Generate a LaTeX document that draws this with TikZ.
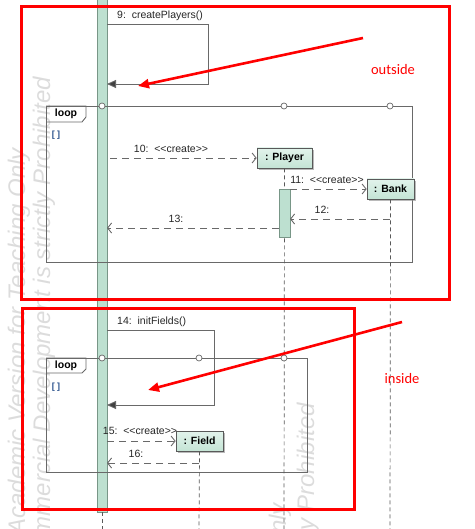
\documentclass[tikz,border=0pt]{standalone}
\usepackage{fontspec}
\setmainfont{Liberation Sans}
\newfontfamily\notefont{Carlito}
\usetikzlibrary{arrows.meta,shadows}
\definecolor{linegray}{RGB}{105,105,105}
\definecolor{bargreen}{RGB}{189,224,208}
\definecolor{barborder}{RGB}{120,150,135}
\definecolor{boxtop}{RGB}{226,243,235}
\definecolor{boxbot}{RGB}{196,228,213}
\definecolor{wmark}{RGB}{220,220,220}
\definecolor{guardblue}{RGB}{40,80,140}
\begin{document}
\begin{tikzpicture}[x=1pt,y=-1pt,
  font=\fontsize{10.5}{12}\selectfont,
  frame/.style={draw=linegray, line width=0.9pt},
  msgline/.style={draw=linegray, line width=0.9pt, dash pattern=on 7pt off 5pt},
  openhead/.style={-{Straight Barb[length=4pt,width=10pt]}},
  selfhead/.style={-{Triangle[length=9pt,width=8pt,fill=black!75]}},
  lifeline/.style={draw=black!65, line width=0.7pt, dash pattern=on 4pt off 3pt},
  objbox/.style={draw=black!65, line width=0.7pt, top color=boxtop, bottom color=boxbot,
     font=\bfseries\fontsize{10.5}{12}\selectfont, minimum height=20pt, inner sep=0pt,
     drop shadow={shadow xshift=2pt,shadow yshift=-2pt,fill=black!45,opacity=0.6}},
  barbox/.style={draw=barborder, fill=bargreen, line width=0.7pt, inner sep=0pt},
  circ/.style={circle, draw=linegray, fill=white, line width=0.7pt, inner sep=0pt, minimum size=6pt},
  redbox/.style={draw=red, line width=3pt},
  redarrow/.style={draw=red, line width=2.6pt, -{Triangle[length=11pt,width=9pt]}},
  note/.style={text=red, inner sep=0pt, font=\notefont\fontsize{14.5}{16}\selectfont},
  lbl/.style={inner sep=0pt, text=black!85},
  wm/.style={text=wmark, inner sep=0pt, rotate=90, font=\itshape\fontsize{24}{26}\selectfont},
  looplbl/.style={inner sep=0pt, font=\bfseries\fontsize{10.5}{12}\selectfont},
  guard/.style={inner sep=0pt, text=guardblue, font=\bfseries\fontsize{9}{11}\selectfont}
]
\useasboundingbox (0,0) rectangle (474,529);
\begin{scope}
\clip (0,0) rectangle (474,529);
% watermark
\node[wm, anchor=east] (wmA1) at (19,148) {Academic Version for Teaching Only};
\node[wm, anchor=east] (wmA2) at (44,77) {Commercial Development is strictly Prohibited};
\node[wm, anchor=east] (wmB1) at (280,503) {Academic Version for Teaching Only};
\node[wm, anchor=east] (wmB2) at (308,403) {Commercial Development is strictly Prohibited};

% main activation bar
\node[barbox, minimum width=10pt, minimum height=516pt] (mainbar) at (102,254) {};
\coordinate (mainend) at (102,529);
\draw[lifeline] (mainbar.south) -- (mainend);

% loop frames
\draw[frame] (46,106) rectangle (412,262);
\draw[frame] (46,358) rectangle (307,472);
\draw[frame] (46,106) -- (86,106) -- (86,117) -- (82,122) -- (46,122);
\draw[frame] (46,358) -- (86,358) -- (86,369) -- (82,373) -- (46,373);
\node[looplbl] (loop1) at (66,114) {loop};
\node[looplbl] (loop2) at (66,366) {loop};
\node[guard] (g1) at (56,135) {[ ]};
\node[guard] (g2) at (56,387) {[ ]};

% objects
\node[objbox, minimum width=55pt] (player) at (284.5,158) {: Player};
\node[objbox, minimum width=47pt] (bank) at (390.5,189) {: Bank};
\node[objbox, minimum width=47pt] (field) at (199.5,441) {: Field};
\coordinate (playerend) at (284,529);
\coordinate (bankend) at (390,529);
\coordinate (fieldend) at (199,529);
\draw[lifeline] (player.south) -- (playerend);
\draw[lifeline] (bank.south) -- (bankend);
\draw[lifeline] (field.south) -- (fieldend);
\node[barbox, minimum width=11pt, minimum height=48pt] (act) at (284.5,213) {};

% message 9 (self)
\coordinate (s9a) at (107,24);
\coordinate (s9b) at (208,24);
\coordinate (s9c) at (208,84);
\coordinate (s9d) at (107,84);
\draw[frame, selfhead] (s9a) -- (s9b) -- (s9c) -- (s9d);
\node[lbl, anchor=west] (l9) at (117,16) {9:\ \ createPlayers()};

% message 10
\coordinate (m10a) at (110,158);
\draw[msgline, openhead] (m10a) -- (player.west);
\node[lbl] (l10) at (171,149) {10:\ \ <{}<create>{}>};

% message 11
\coordinate (m11a) at (290,189);
\draw[msgline, openhead] (m11a) -- (bank.west);
\node[lbl] (l11) at (327,180) {11:\ \ <{}<create>{}>};

% message 12
\coordinate (m12a) at (390,219);
\coordinate (m12b) at (290,219);
\draw[msgline, openhead] (m12a) -- (m12b);
\node[lbl] (l12) at (322,210) {12:};

% message 13
\coordinate (m13a) at (279,228);
\coordinate (m13b) at (107,228);
\draw[msgline, openhead] (m13a) -- (m13b);
\node[lbl] (l13) at (176,219) {13:};

% message 14 (self)
\coordinate (s14a) at (107,330);
\coordinate (s14b) at (214,330);
\coordinate (s14c) at (214,405);
\coordinate (s14d) at (107,405);
\draw[frame, selfhead] (s14a) -- (s14b) -- (s14c) -- (s14d);
\node[lbl, anchor=west] (l14) at (117,322) {14:\ \ initFields()};

% message 15
\coordinate (m15a) at (107,441);
\draw[msgline, openhead] (m15a) -- (field.west);
\node[lbl] (l15) at (140,431) {15:\ \ <{}<create>{}>};

% message 16
\coordinate (m16a) at (199,463);
\coordinate (m16b) at (107,463);
\draw[msgline, openhead] (m16a) -- (m16b);
\node[lbl] (l16) at (136,454) {16:};

% circles on loop tops
\node[circ] (c1) at (102,106) {};
\node[circ] (c2) at (284,106) {};
\node[circ] (c3) at (390,106) {};
\node[circ] (c4) at (102,358) {};
\node[circ] (c5) at (199,358) {};
\node[circ] (c6) at (284,358) {};

% red annotations
\draw[redbox] (21,7) rectangle (449,299);
\draw[redbox] (22,308) rectangle (354,509);
\coordinate (r1a) at (363,38);
\coordinate (r1b) at (138,86);
\draw[redarrow] (r1a) -- (r1b);
\coordinate (r2a) at (402,322);
\coordinate (r2b) at (148,390);
\draw[redarrow] (r2a) -- (r2b);
\node[note] (outside) at (393,70) {outside};
\node[note] (inside) at (402,379) {inside};
\end{scope}
\end{tikzpicture}
\end{document}
